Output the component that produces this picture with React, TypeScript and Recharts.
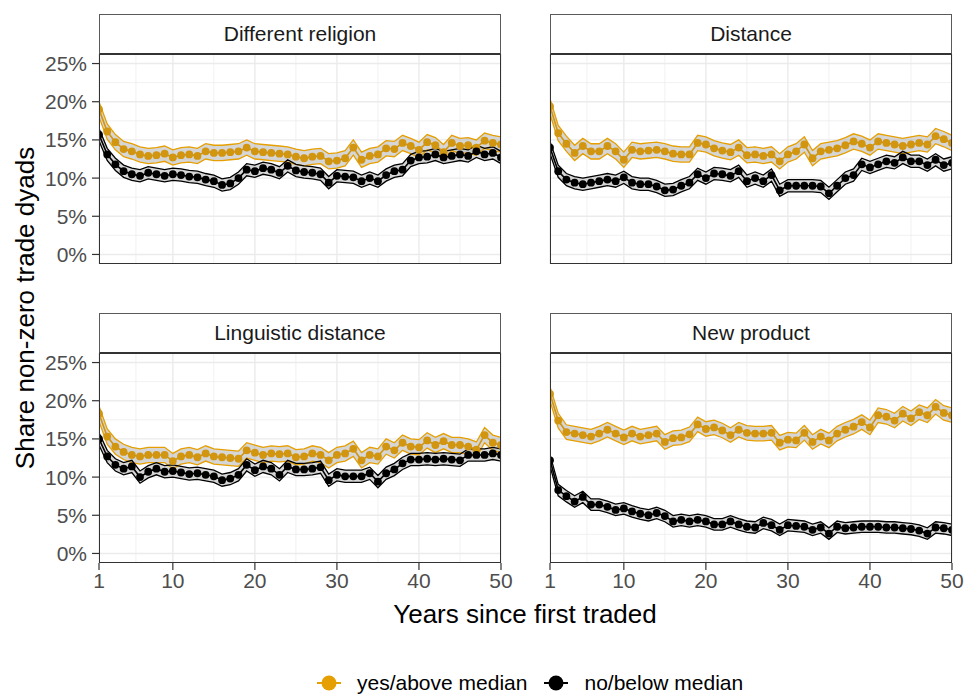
import { ComposedChart, Area, Line, XAxis, YAxis, CartesianGrid } from 'recharts';

// years since first traded
const years = Array.from({ length: 50 }, (_, i) => i + 1);

const panelTitles = ['Different religion', 'Distance', 'Linguistic distance', 'New product'];

// share of non-zero trade dyads, in percent
const religionYes = [
  19.0, 16.1, 14.7, 13.8, 13.5, 13.1, 12.9, 13.0, 13.2, 12.7,
  13.0, 13.1, 12.9, 13.5, 13.3, 13.3, 13.4, 13.5, 14.0, 13.5,
  13.4, 13.3, 13.2, 13.1, 12.8, 12.6, 12.8, 12.9, 12.2, 12.3,
  12.6, 14.0, 12.4, 12.9, 13.1, 13.9, 13.8, 14.6, 14.2, 13.7,
  14.7, 14.3, 13.4, 14.6, 14.2, 14.3, 14.0, 14.9, 14.6, 14.4,
];
const religionNo = [
  15.7, 13.1, 11.8, 10.9, 10.5, 10.3, 10.7, 10.5, 10.3, 10.5,
  10.4, 10.2, 10.1, 9.8, 9.6, 9.1, 9.3, 10.0, 11.1, 10.9,
  11.3, 11.1, 10.7, 11.6, 11.0, 10.8, 10.7, 10.5, 9.4, 10.3,
  10.2, 10.1, 9.6, 10.0, 9.6, 10.4, 10.9, 11.1, 12.3, 12.7,
  12.8, 13.1, 12.7, 12.9, 13.1, 12.9, 13.5, 13.1, 13.3, 12.7,
];
const distanceYes = [
  19.4, 15.9, 14.5, 13.3, 14.2, 13.5, 13.5, 14.2, 13.5, 12.4,
  13.7, 13.5, 13.6, 13.7, 13.5, 13.2, 13.1, 13.1, 14.6, 14.4,
  13.9, 13.6, 13.4, 14.0, 13.0, 13.1, 12.9, 13.1, 12.2, 13.1,
  13.5, 14.4, 12.6, 13.5, 13.7, 13.9, 14.3, 14.8, 14.5, 14.0,
  14.8, 14.6, 14.4, 14.2, 14.4, 14.6, 14.4, 15.5, 15.1, 14.6,
];
const distanceNo = [
  14.0, 10.9, 9.8, 9.4, 9.2, 9.4, 9.6, 9.8, 9.6, 10.1,
  9.4, 9.2, 9.2, 8.9, 8.4, 8.5, 9.0, 9.4, 10.5, 10.0,
  10.6, 10.5, 10.3, 10.9, 9.6, 10.0, 9.6, 10.4, 8.4, 9.0,
  9.0, 9.0, 9.0, 8.9, 8.0, 9.0, 10.0, 10.4, 11.8, 11.4,
  11.8, 12.2, 12.0, 12.7, 12.2, 12.2, 11.7, 12.4, 11.7, 12.0,
];
const linguisticYes = [
  18.3, 15.3, 14.0, 13.3, 12.9, 12.7, 12.9, 12.9, 12.9, 12.1,
  12.7, 12.9, 12.6, 13.1, 12.7, 12.6, 12.5, 12.4, 13.5, 13.2,
  12.9, 13.1, 13.0, 13.1, 12.6, 12.7, 13.1, 12.9, 12.2, 12.9,
  13.1, 13.7, 12.2, 12.9, 12.7, 14.0, 13.5, 14.5, 14.0, 13.9,
  14.8, 14.2, 14.7, 14.2, 14.2, 14.0, 13.6, 15.5, 14.5, 14.2,
];
const linguisticNo = [
  15.0, 12.7, 11.6, 11.1, 11.4, 10.0, 10.7, 11.1, 10.7, 10.8,
  10.6, 10.4, 10.5, 10.3, 10.1, 9.6, 9.8, 10.3, 11.6, 10.9,
  11.4, 11.1, 10.3, 11.4, 11.0, 11.0, 11.1, 11.3, 9.6, 10.3,
  10.1, 10.1, 10.1, 10.5, 9.4, 10.5, 11.0, 11.8, 12.3, 12.3,
  12.4, 12.3, 12.4, 12.3, 12.2, 12.9, 12.9, 12.9, 13.1, 12.9,
];
const productYes = [
  20.9, 17.4, 15.9, 15.7, 15.5, 15.3, 15.7, 16.2, 15.7, 15.2,
  15.7, 15.3, 15.5, 15.7, 14.6, 15.1, 15.2, 15.6, 16.9, 16.3,
  16.5, 16.1, 15.5, 16.2, 15.8, 15.7, 15.7, 15.8, 14.5, 14.9,
  14.8, 15.8, 14.6, 15.3, 14.8, 15.7, 16.2, 16.6, 17.2, 16.5,
  18.1, 17.9, 17.4, 18.3, 17.7, 18.5, 18.1, 19.2, 18.4, 18.1,
];
const productNo = [
  12.2, 8.3, 7.5, 6.8, 7.4, 6.4, 6.4, 6.1, 5.7, 5.9,
  5.5, 5.2, 5.0, 5.3, 4.9, 4.2, 4.4, 4.2, 4.4, 4.2,
  3.8, 3.8, 4.2, 3.8, 3.5, 3.4, 4.0, 3.7, 3.1, 3.7,
  3.6, 3.5, 3.1, 3.4, 2.6, 3.5, 3.3, 3.4, 3.5, 3.5,
  3.5, 3.4, 3.4, 3.3, 3.2, 3.0, 2.6, 3.4, 3.3, 3.1,
];

// half-width of the confidence band per panel, percentage points
const yesHalfWidth = [1.0, 1.0, 1.0, 0.95];
const noHalfWidth = [0.8, 0.8, 0.8, 0.75];

const xTicks = [1, 10, 20, 30, 40, 50];
const xMinor = [5.5, 15, 25, 35, 45];
const yTicks = [0, 5, 10, 15, 20, 25];
const yMinor = [2.5, 7.5, 12.5, 17.5, 22.5];

const ORANGE = '#E69F00';
const ORANGE_PT = '#D1950F';
const FONT = '"Liberation Sans", Arial, sans-serif';

const PW = 402;
const PH = 210;

type PanelProps = {
  title: string;
  yes: number[];
  no: number[];
  yesHalf: number;
  noHalf: number;
  left: number;
  top: number;
  showX: boolean;
  showY: boolean;
};

function Panel({ title, yes, no, yesHalf, noHalf, left, top, showX, showY }: PanelProps) {
  const rows = years.map((x, i) => ({
    x,
    yes: yes[i],
    yesLo: yes[i] - yesHalf,
    yesHi: yes[i] + yesHalf,
    yesBand: [yes[i] - yesHalf, yes[i] + yesHalf],
    no: no[i],
    noLo: no[i] - noHalf,
    noHi: no[i] + noHalf,
    noBand: [no[i] - noHalf, no[i] + noHalf],
  }));
  const yw = showY ? 80 : 0;
  const xh = showX ? 40 : 0;
  const m = 2;
  const side = 20;
  const tick = { fill: '#4D4D4D', fontSize: 21, fontFamily: FONT };

  return (
    <>
      <div
        style={{
          position: 'absolute',
          left,
          top: top - 40,
          width: PW,
          height: 41,
          boxSizing: 'border-box',
          border: '1px solid #5a5a5a',
          borderBottom: '2px solid #333',
          textAlign: 'center',
          lineHeight: '38px',
          fontSize: 21,
          color: '#1A1A1A',
        }}
      >
        {title}
      </div>
      <div style={{ position: 'absolute', left: left - yw - side, top: top - m }}>
        <ComposedChart
          width={PW + yw + 2 * side}
          height={PH + xh + 2 * m}
          data={rows}
          margin={{ top: m, right: side, bottom: m, left: side }}
        >
          <CartesianGrid
            stroke="#EBEBEB"
            strokeWidth={0.7}
            horizontalValues={yMinor}
            verticalValues={xMinor}
          />
          <CartesianGrid
            stroke="#EBEBEB"
            strokeWidth={1.4}
            horizontalValues={yTicks}
            verticalValues={xTicks}
          />
          <XAxis
            type="number"
            dataKey="x"
            domain={[1, 50]}
            ticks={xTicks}
            allowDataOverflow
            hide={!showX}
            height={xh}
            axisLine={false}
            tickLine={{ stroke: '#333', strokeWidth: 1.2 }}
            tickSize={7}
            tickMargin={3}
            tick={tick}
            interval={0}
          />
          <YAxis
            type="number"
            domain={[-1.25, 26.25]}
            ticks={yTicks}
            allowDataOverflow
            hide={!showY}
            width={yw}
            axisLine={false}
            tickLine={{ stroke: '#333', strokeWidth: 1.2 }}
            tickSize={7}
            tickMargin={5}
            tick={tick}
            interval={0}
            tickFormatter={(v: number) => `${v}%`}
          />
          <Area dataKey="yesBand" type="linear" stroke="none" fill="#B5B5B5" fillOpacity={0.55} isAnimationActive={false} />
          <Area dataKey="noBand" type="linear" stroke="none" fill="#B5B5B5" fillOpacity={0.55} isAnimationActive={false} />
          <Line dataKey="yesLo" type="linear" stroke={ORANGE} strokeWidth={1.3} dot={false} isAnimationActive={false} />
          <Line dataKey="yesHi" type="linear" stroke={ORANGE} strokeWidth={1.3} dot={false} isAnimationActive={false} />
          <Line dataKey="noLo" type="linear" stroke="#000" strokeWidth={1.3} dot={false} isAnimationActive={false} />
          <Line dataKey="noHi" type="linear" stroke="#000" strokeWidth={1.3} dot={false} isAnimationActive={false} />
          <Line
            dataKey="yes"
            type="linear"
            stroke={ORANGE_PT}
            strokeWidth={1.6}
            dot={{ r: 3.9, fill: ORANGE_PT, stroke: 'none' }}
            isAnimationActive={false}
          />
          <Line
            dataKey="no"
            type="linear"
            stroke="#000"
            strokeWidth={1.6}
            dot={{ r: 3.9, fill: '#000', stroke: 'none' }}
            isAnimationActive={false}
          />
        </ComposedChart>
      </div>
      <div
        style={{
          position: 'absolute',
          left,
          top,
          width: PW,
          height: PH,
          boxSizing: 'border-box',
          border: '1px solid #333',
          pointerEvents: 'none',
        }}
      />
    </>
  );
}

function LegendKey({ color }: { color: string }) {
  return (
    <svg width={26} height={18} style={{ display: 'block' }}>
      <line x1={1} y1={9} x2={25} y2={9} stroke={color} strokeWidth={2} />
      <circle cx={13} cy={9} r={7.5} fill={color} />
    </svg>
  );
}

export default function App() {
  const series = [
    [religionYes, religionNo],
    [distanceYes, distanceNo],
    [linguisticYes, linguisticNo],
    [productYes, productNo],
  ];
  const lefts = [99, 550, 99, 550];
  const tops = [54, 54, 353, 353];

  return (
    <div
      style={{
        position: 'absolute',
        left: 0,
        top: 0,
        width: 965,
        height: 695,
        background: '#fff',
        fontFamily: FONT,
        overflow: 'hidden',
      }}
    >
      {panelTitles.map((t, i) => (
        <Panel
          key={t}
          title={t}
          yes={series[i][0]}
          no={series[i][1]}
          yesHalf={yesHalfWidth[i]}
          noHalf={noHalfWidth[i]}
          left={lefts[i]}
          top={tops[i]}
          showX={i >= 2}
          showY={i % 2 === 0}
        />
      ))}
      <div
        style={{
          position: 'absolute',
          left: 25,
          top: 308,
          transform: 'translate(-50%, -50%) rotate(-90deg)',
          whiteSpace: 'nowrap',
          fontSize: 26,
          color: '#000',
        }}
      >
        Share non-zero trade dyads
      </div>
      <div
        style={{
          position: 'absolute',
          left: 525,
          top: 599,
          transform: 'translateX(-50%)',
          whiteSpace: 'nowrap',
          fontSize: 26,
          lineHeight: '30px',
          color: '#000',
        }}
      >
        Years since first traded
      </div>
      <div style={{ position: 'absolute', left: 316, top: 672, display: 'flex', alignItems: 'center', fontSize: 21, lineHeight: '22px' }}>
        <LegendKey color={ORANGE} />
        <span style={{ marginLeft: 15 }}>yes/above median</span>
        <div style={{ width: 16 }} />
        <LegendKey color="#000" />
        <span style={{ marginLeft: 15 }}>no/below median</span>
      </div>
    </div>
  );
}
